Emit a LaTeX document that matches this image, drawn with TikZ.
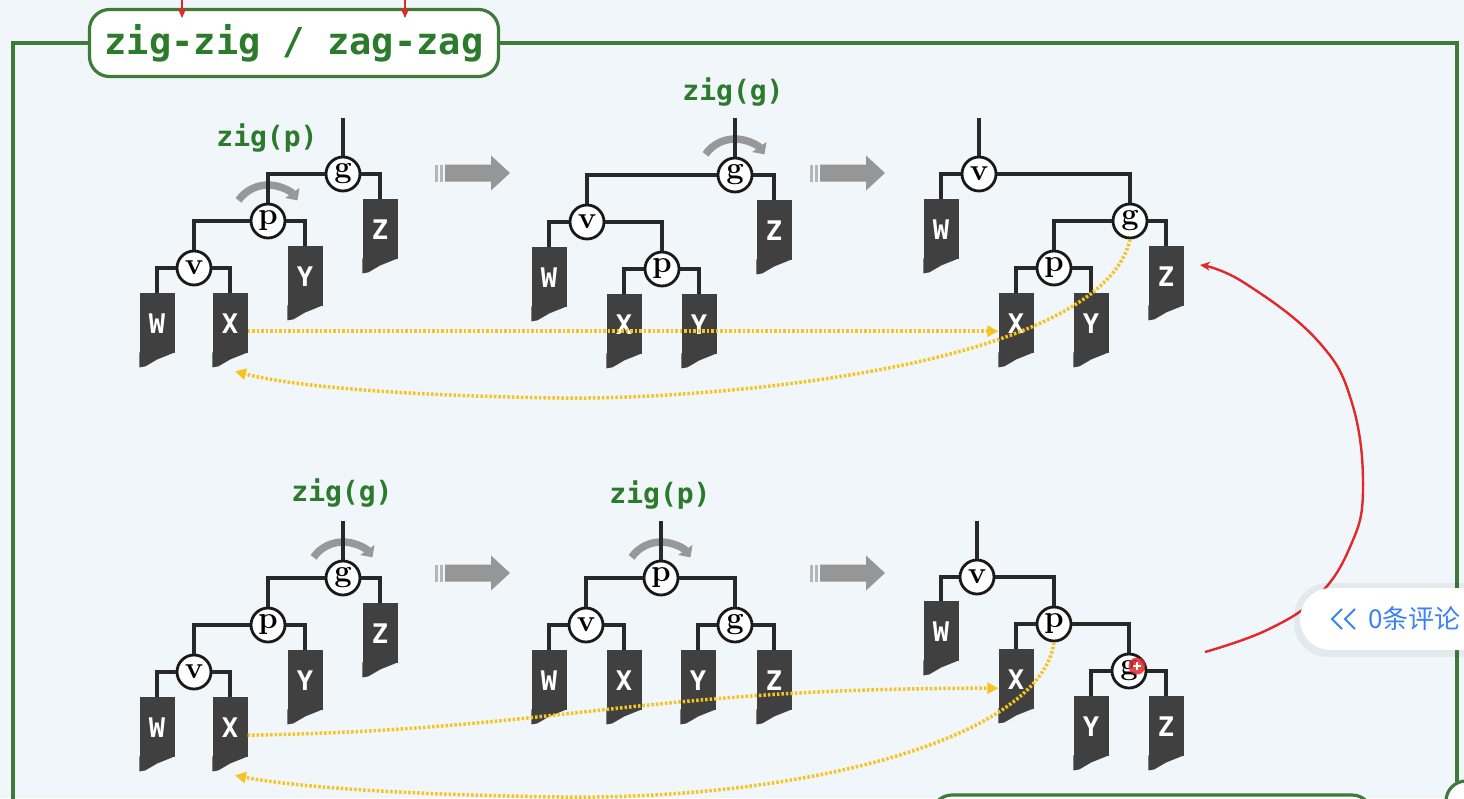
\documentclass[tikz,border=0pt]{standalone}
\usepackage{fontspec}
\newfontfamily\codefont{DejaVu Sans Mono}
\newfontfamily\cjk{Noto Sans CJK SC}
\usetikzlibrary{arrows.meta, calc}
\definecolor{bgblue}{RGB}{241,246,251}
\definecolor{framegreen}{RGB}{62,122,58}
\definecolor{opgreen}{RGB}{44,122,44}
\definecolor{leafgray}{RGB}{64,64,64}
\definecolor{edgegray}{RGB}{40,40,40}
\definecolor{rotgray}{RGB}{152,152,152}
\definecolor{blockgray}{RGB}{150,150,150}
\definecolor{swapgold}{RGB}{245,196,30}
\definecolor{annotred}{RGB}{226,40,40}
\definecolor{cblue}{RGB}{59,130,246}

\begin{document}
\begin{tikzpicture}[x=1pt, y=-1pt, >=Stealth,
        keynode/.style={circle, draw=black!90, line width=2.8pt, fill=white,
            minimum size=34pt, inner sep=0pt, font=\bfseries\fontsize{31}{31}\selectfont},
        leaf/.style={fill=leafgray, text=white, anchor=north, minimum width=35pt,
            minimum height=60pt, inner sep=0pt,
            font=\codefont\bfseries\fontsize{27}{27}\selectfont,
            append after command={\pgfextra{\fill[leafgray] ([yshift=1pt]\tikzlastnode.south west)
                -- ++(0,15) -- ++(6,-1) -- ++(12,-7) -- ([yshift=1pt]\tikzlastnode.south east) -- cycle;}}},
        branch/.style={draw=edgegray, line width=3.6pt},
        rotarc/.style={draw=rotgray, line width=7.5pt, -{Triangle[length=9pt,width=17pt]}},
        swapline/.style={draw=swapgold, line width=3.5pt, dash pattern=on 2.5pt off 2pt,
            -{Triangle[length=11pt,width=11pt]}},
        opname/.style={text=opgreen, font=\codefont\bfseries\fontsize{28}{28}\selectfont},
        annot/.style={draw=annotred, line width=2.4pt, -{Stealth[length=10pt,width=9pt]}}]
    \useasboundingbox (0,0) rectangle (1464,798);
    \clip (0,0) rectangle (1464,798);
    \fill[bgblue] (0,0) rectangle (1464,798);

    % frame and title
    \draw[framegreen, line width=3.2pt] (13,810) -- (13,43) -- (1457,43) -- (1457,782);
    \draw[framegreen, line width=3.2pt, fill=white] (1466,801) circle[radius=20pt];
    \draw[framegreen, line width=3.2pt, fill=white, rounded corners=20pt]
        (932,795) rectangle (1372,860);
    \node[draw=framegreen, line width=3.2pt, fill=white, rounded corners=20pt,
        minimum width=409pt, minimum height=67pt, text=opgreen,
        font=\codefont\bfseries\fontsize{37}{37}\selectfont] (title) at (294,43)
        {zig-zig / zag-zag};
    \draw[annot] (182,-6) -- (182,18);
    \draw[annot] (405,-6) -- (405,18);

    % block arrows between the steps
    \foreach \x/\y in {435/173, 810/173, 435/573, 810/573} {
        \fill[blockgray!70] (\x,\y-8.5) rectangle (\x+3,\y+8.5);
        \fill[blockgray!70] (\x+5,\y-8.5) rectangle (\x+8,\y+8.5);
        \fill[blockgray] (\x+10,\y-8.5) -- (\x+56,\y-8.5) -- (\x+56,\y-17.5)
            -- (\x+75,\y) -- (\x+56,\y+17.5) -- (\x+56,\y+8.5) -- (\x+10,\y+8.5) -- cycle;
    }

    % top row, step 1
    \coordinate (t1) at (343,118);
    \node[keynode] (g1) at (343,174) {g};
    \node[keynode] (p1) at (268,221) {p};
    \node[keynode] (v1) at (194,268) {v};
    \node[leaf] (W1) at (157,293) {W};
    \node[leaf] (X1) at (230,293) {X};
    \node[leaf] (Y1) at (305,246) {Y};
    \node[leaf] (Z1) at (380,199) {Z};
    \node[opname] (op1) at (267,138) {zig(p)};
    \draw[rotarc] ([shift={(145:36pt)}]p1.center) arc[start angle=145, end angle=35, radius=36pt];
    \draw[branch] (t1) -- (g1) (p1) |- (g1) (Z1) |- (g1) (v1) |- (p1) (Y1) |- (p1)
        (W1) |- (v1) (X1) |- (v1);

    % top row, step 2
    \coordinate (t2) at (735,118);
    \node[keynode] (g2) at (735,175) {g};
    \node[keynode] (v2) at (587,222) {v};
    \node[keynode] (p2) at (662,269) {p};
    \node[leaf] (W2) at (549,247) {W};
    \node[leaf] (X2) at (624,294) {X};
    \node[leaf] (Y2) at (699,294) {Y};
    \node[leaf] (Z2) at (774,200) {Z};
    \node[opname] (op2) at (733,92) {zig(g)};
    \draw[rotarc] ([shift={(145:36pt)}]g2.center) arc[start angle=145, end angle=35, radius=36pt];
    \draw[branch] (t2) -- (g2) (v2) |- (g2) (Z2) |- (g2) (W2) |- (v2) (p2) |- (v2)
        (X2) |- (p2) (Y2) |- (p2);

    % top row, result
    \coordinate (t3) at (979,118);
    \node[keynode] (v3) at (979,174) {v};
    \node[keynode] (g3) at (1130,221) {g};
    \node[keynode] (p3) at (1054,268) {p};
    \node[leaf] (W3) at (941,199) {W};
    \node[leaf] (X3) at (1016,293) {X};
    \node[leaf] (Y3) at (1091,293) {Y};
    \node[leaf] (Z3) at (1166,246) {Z};
    \draw[branch] (t3) -- (v3) (W3) |- (v3) (g3) |- (v3) (p3) |- (g3) (Z3) |- (g3)
        (X3) |- (p3) (Y3) |- (p3);

    % bottom row, step 1
    \coordinate (t4) at (343,521);
    \node[keynode] (g4) at (343,578) {g};
    \node[keynode] (p4) at (268,625) {p};
    \node[keynode] (v4) at (194,672) {v};
    \node[leaf] (W4) at (157,697) {W};
    \node[leaf] (X4) at (230,697) {X};
    \node[leaf] (Y4) at (305,650) {Y};
    \node[leaf] (Z4) at (380,603) {Z};
    \node[opname] (op4) at (342,493) {zig(g)};
    \draw[rotarc] ([shift={(145:36pt)}]g4.center) arc[start angle=145, end angle=35, radius=36pt];
    \draw[branch] (t4) -- (g4) (p4) |- (g4) (Z4) |- (g4) (v4) |- (p4) (Y4) |- (p4)
        (W4) |- (v4) (X4) |- (v4);

    % bottom row, step 2
    \coordinate (t5) at (661,521);
    \node[keynode] (p5) at (661,578) {p};
    \node[keynode] (v5) at (586,625) {v};
    \node[keynode] (g5) at (735,625) {g};
    \node[leaf] (W5) at (549,650) {W};
    \node[leaf] (X5) at (624,650) {X};
    \node[leaf] (Y5) at (698,650) {Y};
    \node[leaf] (Z5) at (774,650) {Z};
    \node[opname] (op5) at (660,495) {zig(p)};
    \draw[rotarc] ([shift={(145:36pt)}]p5.center) arc[start angle=145, end angle=35, radius=36pt];
    \draw[branch] (t5) -- (p5) (v5) |- (p5) (g5) |- (p5) (W5) |- (v5) (X5) |- (v5)
        (Y5) |- (g5) (Z5) |- (g5);

    % bottom row, result
    \coordinate (t6) at (977,521);
    \node[keynode] (v6) at (977,577) {v};
    \node[keynode] (p6) at (1054,624) {p};
    \node[keynode] (g6) at (1129,671) {g};
    \node[leaf] (W6) at (941,601) {W};
    \node[leaf] (X6) at (1016,649) {X};
    \node[leaf] (Y6) at (1091,696) {Y};
    \node[leaf] (Z6) at (1166,696) {Z};
    \draw[branch] (t6) -- (v6) (W6) |- (v6) (p6) |- (v6) (X6) |- (p6) (g6) |- (p6)
        (Y6) |- (g6) (Z6) |- (g6);

    % where the subtrees X and Y go
    \draw[swapline] ([yshift=-8pt]X1.east) -- ([yshift=-8pt]X3.west);
    \draw[swapline] (g3.south) .. controls (1100,370) and (700,400) .. (560,398)
        .. controls (420,396) and (300,388) .. ([xshift=5pt,yshift=-18pt]X1.south);
    \draw[swapline] ([yshift=-8pt]X4.east) .. controls (560,730) and (640,688)
        .. ([yshift=-9pt]X6.west);
    \draw[swapline] (p6.south) .. controls (1040,740) and (800,800) .. (560,797)
        .. controls (420,795) and (300,788) .. ([xshift=5pt,yshift=-18pt]X4.south);

    % red marks on top
    \node[circle, fill=annotred, opacity=0.85, minimum size=17pt, inner sep=0pt]
        (mark) at (1137,666) {};
    \draw[white, line width=1.5pt] ($(mark)+(-4,0)$) -- ($(mark)+(4,0)$)
        ($(mark)+(0,-4)$) -- ($(mark)+(0,4)$);
    \draw[annot] plot[smooth, tension=0.7] coordinates {(1205,652) (1267,630) (1317,597)
        (1350,547) (1363,490) (1352,403) (1317,340) (1243,282) (1200,265)};

    % comment button
    \fill[black, opacity=0.05, rounded corners=34pt] (1294,583) rectangle (1540,657);
    \fill[white, rounded corners=31pt] (1300,588) rectangle (1540,650);
    \draw[cblue, line width=2pt] (1342,609) -- (1332,619) -- (1342,629)
        (1355,609) -- (1345,619) -- (1355,629);
    \node[anchor=west, inner sep=0pt, text=cblue, font=\cjk\fontsize{26}{26}\selectfont]
        (cmt) at (1368,619) {0条评论};
\end{tikzpicture}
\end{document}
